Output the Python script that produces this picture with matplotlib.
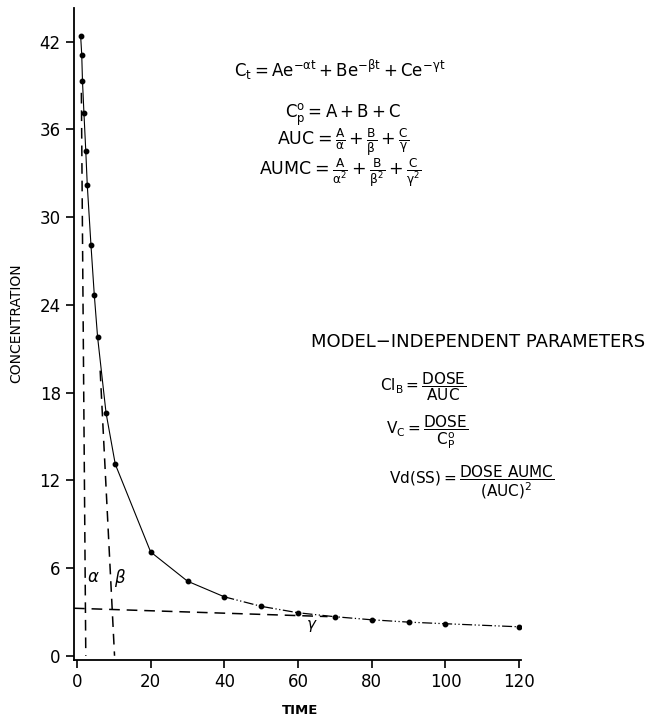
import numpy as np
import matplotlib
matplotlib.use("Agg")
import matplotlib.pyplot as plt

time = [1.0, 1.3, 1.5, 1.9, 2.4, 2.8, 3.8, 4.7, 5.6, 7.9, 10.4,
        20, 30, 40, 50, 60, 70, 80, 90, 100, 120]
conc = [42.4, 41.1, 39.3, 37.1, 34.5, 32.2, 28.1, 24.7, 21.8, 16.6, 13.1,
        7.1, 5.1, 4.03, 3.38, 2.94, 2.67, 2.46, 2.30, 2.19, 1.98]

# back-extrapolated phase lines (end points)
alpha_x = [1.2, 2.4]
alpha_y = [38.5, 0]
beta_x = [6.3, 10.2]
beta_y = [19.5, 0]
gamma_x = [-0.8, 68]
gamma_y = [3.25, 2.68]

xticks = [0, 20, 40, 60, 80, 100, 120]
yticks = [0, 6, 12, 18, 24, 30, 36, 42]

plt.rcParams["mathtext.fontset"] = "dejavusans"

W, H = 651, 719
fig = plt.figure(figsize=(W / 100, H / 100), dpi=100)
ax = fig.add_axes([74 / W, 1 - 660 / H, (521 - 74) / W, (660 - 8) / H])

split = time.index(40)
ax.plot(time[:split + 1], conc[:split + 1], color="black", lw=0.8)
ax.plot(time[split:], conc[split:], color="black", lw=0.9,
        linestyle=(0, (8, 2, 1, 2, 1, 2)))
ax.plot(time, conc, "o", color="black", ms=3.2)

for xs, ys in [(alpha_x, alpha_y), (beta_x, beta_y), (gamma_x, gamma_y)]:
    ax.plot(xs, ys, color="black", lw=1.1, linestyle=(0, (7, 4.5)))

ax.text(4.4, 5.4, r"$\alpha$", fontsize=12, ha="center", va="center")
ax.text(11.6, 5.3, r"$\beta$", fontsize=12, ha="center", va="center")
ax.text(63.8, 2.05, r"$\gamma$", fontsize=11, ha="center", va="center")

ax.set_xlim(-0.8, 120.5)
ax.set_ylim(-0.29, 44.3)
ax.set_xticks(xticks)
ax.set_yticks(yticks)
ax.tick_params(labelsize=12, length=6, width=1.2, direction="out")
for s in ["top", "right"]:
    ax.spines[s].set_visible(False)
for s in ["left", "bottom"]:
    ax.spines[s].set_linewidth(1.3)

fig.text(16 / W, 1 - 323 / H, "CONCENTRATION", rotation=90, fontsize=10,
         ha="center", va="center")
fig.text(300 / W, 1 - 711 / H, "TIME", fontsize=9.5, fontweight="bold",
         ha="center", va="center")

def ftxt(px, py, s, size=11):
    fig.text(px / W, 1 - py / H, s, fontsize=size, ha="center", va="center")

ftxt(340, 70, r"$\mathrm{C_t = Ae^{-\alpha t} + Be^{-\beta t} + Ce^{-\gamma t}}$", 12)
ftxt(343, 115, r"$\mathrm{C_p^o = A + B + C}$", 12)
ftxt(343, 142, r"$\mathrm{AUC = \frac{A}{\alpha} + \frac{B}{\beta} + \frac{C}{\gamma}}$", 12.5)
ftxt(340, 173, r"$\mathrm{AUMC = \frac{A}{\alpha^2} + \frac{B}{\beta^2} + \frac{C}{\gamma^2}}$", 12.5)

ftxt(478, 342, "MODEL\u2212INDEPENDENT PARAMETERS", 13)
ftxt(423, 387, r"$\mathrm{Cl_B = \dfrac{DOSE}{AUC}}$", 11)
ftxt(427, 432, r"$\mathrm{V_C = \dfrac{DOSE}{C_P^o}}$", 11)
ftxt(472, 482, r"$\mathrm{Vd(SS) = \dfrac{DOSE\ AUMC}{(AUC)^2}}$", 11)

fig.savefig("out.png", dpi=100)
